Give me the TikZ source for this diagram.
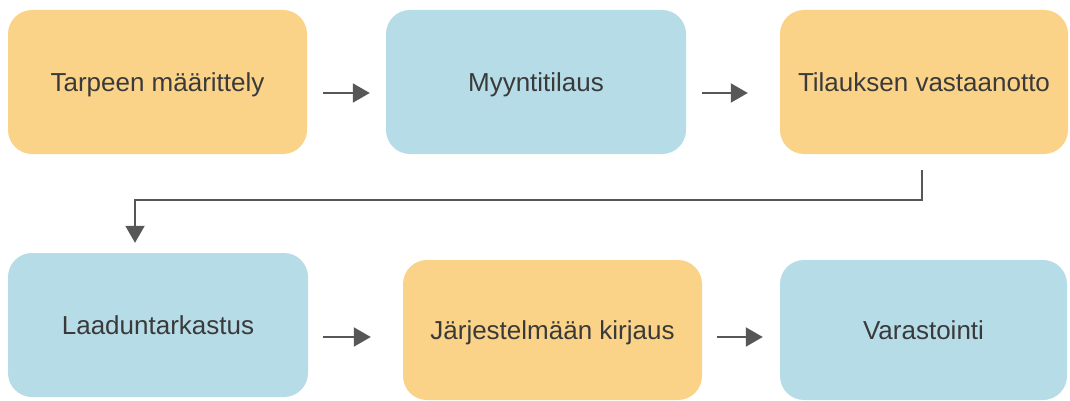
\documentclass[tikz,border=0pt]{standalone}
\usepackage{fontspec}
\setmainfont{Liberation Sans}
\usetikzlibrary{arrows.meta}
\definecolor{sand}{HTML}{FAD388}
\definecolor{sky}{HTML}{B6DCE7}
\definecolor{ink}{HTML}{3A3A3A}
\definecolor{wire}{HTML}{575757}
\begin{document}
\begin{tikzpicture}[x=1pt,y=-1pt,
  stage/.style={rounded corners=24pt, inner sep=0pt, draw=none, text=ink,
    font=\fontsize{26}{30}\selectfont, text height=19pt, text depth=0pt},
  warm/.style={stage, fill=sand},
  cool/.style={stage, fill=sky},
  flow/.style={draw=wire, line width=2pt, -{Triangle[length=17pt,width=19pt]}}
]
\useasboundingbox (0,0) rectangle (1070,401);

% first row
\node[warm, minimum width=299pt, minimum height=144pt] (b1) at (157.5,82) {Tarpeen määrittely};
\node[cool, minimum width=300pt, minimum height=144pt] (b2) at (536,82) {Myyntitilaus};
\node[warm, minimum width=288pt, minimum height=144pt] (b3) at (924,82) {Tilauksen vastaanotto};

% second row
\node[cool, minimum width=300pt, minimum height=144pt] (b4) at (158,325) {Laaduntarkastus};
\node[warm, minimum width=299pt, minimum height=140pt] (b5) at (552.5,330) {Järjestelmään kirjaus};
\node[cool, minimum width=287pt, minimum height=140pt] (b6) at (923.5,330) {Varastointi};

% connectors
\draw[flow, shorten <=16pt, shorten >=16pt]
  ([yshift=-11pt]b1.east) -- ([yshift=-11pt]b1.east -| b2.west);
\draw[flow, shorten <=16pt, shorten >=32pt]
  ([yshift=-11pt]b2.east) -- ([yshift=-11pt]b2.east -| b3.west);

\coordinate (elbow) at (135,200);
\draw[flow, shorten <=16pt, shorten >=10pt]
  ([xshift=-2pt]b3.south) |- (elbow) -- (elbow |- b4.north);

\draw[flow, shorten <=15pt, shorten >=32pt]
  ([yshift=-12pt]b4.east) -- ([yshift=-12pt]b4.east -| b5.west);
\draw[flow, shorten <=15pt, shorten >=17pt]
  ([yshift=-7pt]b5.east) -- ([yshift=-7pt]b5.east -| b6.west);
\end{tikzpicture}
\end{document}
